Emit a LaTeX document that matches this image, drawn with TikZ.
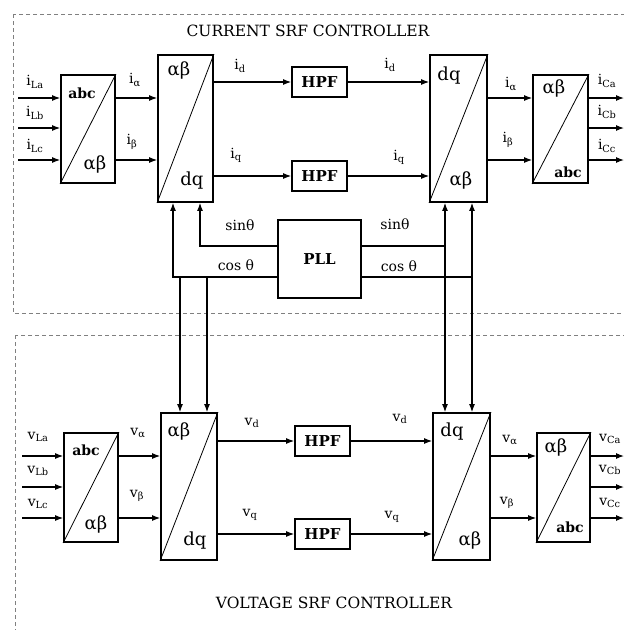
\documentclass[tikz,border=0pt]{standalone}
\usepackage{fontspec}
\setmainfont{DejaVu Serif}
\usepackage{tikz}
\usetikzlibrary{arrows.meta}

\begin{document}
\begin{tikzpicture}[x=1pt, y=-1pt, font=\fontsize{14}{16}\selectfont, >={Latex[length=8pt,width=6pt]}]
\tikzset{
  conv/.style={draw, line width=1.8pt, inner sep=0pt},
  filt/.style={draw, line width=1.8pt, minimum width=55, minimum height=30, font=\fontsize{15}{17}\selectfont\bfseries},
  sig/.style={line width=1.1pt},
  frame/.style={draw=gray, dash pattern=on 4pt off 3pt, line width=1pt},
  big/.style={font=\fontsize{18}{20}\selectfont},
  tag/.style={font=\fontsize{14}{16}\selectfont\bfseries},
  title/.style={font=\fontsize{15.5}{18}\selectfont},
}
\useasboundingbox (0,0) rectangle (624,630);
\clip (0,0) rectangle (624,630);

% frames
\draw[frame] (13,14) rectangle (650,313);
\draw[frame] (15,335) rectangle (650,650);
\node[title] (tI) at (308,31) {CURRENT SRF CONTROLLER};
\node[title] (tV) at (334,603) {VOLTAGE SRF CONTROLLER};

% current controller
\node[conv, minimum width=54, minimum height=108] (ca) at (88,129) {};
\node[conv, minimum width=55, minimum height=147] (cb) at (185.5,128.5) {};
\node[conv, minimum width=57, minimum height=147] (cc) at (458.5,128.5) {};
\node[conv, minimum width=55, minimum height=108] (cd) at (560.5,129) {};
\foreach \n in {ca,cb,cc,cd} \draw[line width=0.8pt] (\n.south west) -- (\n.north east);
\node[tag] (caT) at (82,93) {abc};
\node[big] (caB) at (95,164) {αβ};
\node[big] (cbT) at (179,70) {αβ};
\node[big] (cbB) at (192,181) {dq};
\node[big] (ccT) at (449,76) {dq};
\node[big] (ccB) at (461,180) {αβ};
\node[big] (cdT) at (554,88) {αβ};
\node[tag] (cdB) at (568,172) {abc};

\node[filt] (hd) at (319.5,82) {HPF};
\node[filt] (hq) at (319.5,176) {HPF};
\node[filt, minimum width=83, minimum height=78] (pll) at (319.5,259) {PLL};

\foreach \y [count=\k] in {98,128,160} {
  \coordinate (li\k) at (18,\y);
  \coordinate (lo\k) at (624,\y);
  \draw[sig,->] (li\k) -- (li\k -| ca.west);
  \draw[sig,->] (cd.east |- lo\k) -- (lo\k);
}
\coordinate (ra) at (0,98);
\coordinate (rb) at (0,160);
\draw[sig,->] (ca.east |- ra) -- (cb.west |- ra);
\draw[sig,->] (ca.east |- rb) -- (cb.west |- rb);
\draw[sig,->] (cc.east |- ra) -- (cd.west |- ra);
\draw[sig,->] (cc.east |- rb) -- (cd.west |- rb);
\draw[sig,->] (cb.east |- hd) -- (hd.west);
\draw[sig,->] (cb.east |- hq) -- (hq.west);
\draw[sig,->] (hd.east) -- (cc.west |- hd.east);
\draw[sig,->] (hq.east) -- (cc.west |- hq.east);

\node (iLa) at (35,82) {i\textsubscript{La}};
\node (iLb) at (35,113) {i\textsubscript{Lb}};
\node (iLc) at (35,146) {i\textsubscript{Lc}};
\node (ia1) at (135,80) {i\textsubscript{α}};
\node (ib1) at (132,142) {i\textsubscript{β}};
\node (id1) at (240,66) {i\textsubscript{d}};
\node (iq1) at (236,155) {i\textsubscript{q}};
\node (id2) at (390,65) {i\textsubscript{d}};
\node (iq2) at (399,157) {i\textsubscript{q}};
\node (ia2) at (511,84) {i\textsubscript{α}};
\node (ib2) at (508,140) {i\textsubscript{β}};
\node (iCa) at (607,81) {i\textsubscript{Ca}};
\node (iCb) at (607,112) {i\textsubscript{Cb}};
\node (iCc) at (607,146) {i\textsubscript{Cc}};

% PLL outputs
\coordinate (sL) at (200,246);
\coordinate (cL) at (173,277);
\coordinate (sR) at (445,246);
\coordinate (cR) at (472,277);
\coordinate (dL1) at (180,277);
\coordinate (dL2) at (207,277);
\draw[sig,->] (pll.west |- sL) -- (sL) -- (sL |- cb.south);
\draw[sig,->] (pll.west |- cL) -- (cL) -- (cL |- cb.south);
\draw[sig,->] (pll.east |- sR) -- (sR) -- (sR |- cc.south);
\draw[sig,->] (pll.east |- cR) -- (cR) -- (cR |- cc.south);
\node (sin1) at (240,225) {sinθ};
\node (cos1) at (236,265) {cos θ};
\node (sin2) at (395,224) {sinθ};
\node (cos2) at (399,266) {cos θ};

% voltage controller
\node[conv, minimum width=54, minimum height=109] (va) at (91,487.5) {};
\node[conv, minimum width=56, minimum height=147] (vb) at (189,486.5) {};
\node[conv, minimum width=57, minimum height=147] (vc) at (461.5,486.5) {};
\node[conv, minimum width=53, minimum height=109] (vd) at (563.5,487.5) {};
\foreach \n in {va,vb,vc,vd} \draw[line width=0.8pt] (\n.south west) -- (\n.north east);
\node[tag] (vaT) at (86,450) {abc};
\node[big] (vaB) at (96,524) {αβ};
\node[big] (vbT) at (179,431) {αβ};
\node[big] (vbB) at (195,541) {dq};
\node[big] (vcT) at (452,432) {dq};
\node[big] (vcB) at (470,540) {αβ};
\node[big] (vdT) at (556,447) {αβ};
\node[tag] (vdB) at (570,527) {abc};

\node[filt] (hvd) at (322.5,441) {HPF};
\node[filt] (hvq) at (322.5,534) {HPF};

\foreach \y [count=\k] in {456,487,518} {
  \coordinate (vi\k) at (22,\y);
  \coordinate (vo\k) at (624,\y);
  \draw[sig,->] (vi\k) -- (vi\k -| va.west);
  \draw[sig,->] (vd.east |- vo\k) -- (vo\k);
}
\coordinate (wa) at (0,456);
\coordinate (wb) at (0,518);
\draw[sig,->] (va.east |- wa) -- (vb.west |- wa);
\draw[sig,->] (va.east |- wb) -- (vb.west |- wb);
\draw[sig,->] (vc.east |- wa) -- (vd.west |- wa);
\draw[sig,->] (vc.east |- wb) -- (vd.west |- wb);
\draw[sig,->] (vb.east |- hvd) -- (hvd.west);
\draw[sig,->] (vb.east |- hvq) -- (hvq.west);
\draw[sig,->] (hvd.east) -- (vc.west |- hvd.east);
\draw[sig,->] (hvq.east) -- (vc.west |- hvq.east);

% theta down to voltage side
\draw[sig,->] (dL1) -- (dL1 |- vb.north);
\draw[sig,->] (dL2) -- (dL2 |- vb.north);
\draw[sig,->] (sR) -- (sR |- vc.north);
\draw[sig,->] (cR) -- (cR |- vc.north);

\node (vLa) at (38,437) {v\textsubscript{La}};
\node (vLb) at (38,471) {v\textsubscript{Lb}};
\node (vLc) at (38,504) {v\textsubscript{Lc}};
\node (va1) at (138,433) {v\textsubscript{α}};
\node (vb1) at (137,496) {v\textsubscript{β}};
\node (vd1) at (252,423) {v\textsubscript{d}};
\node (vq1) at (250,515) {v\textsubscript{q}};
\node (vd2) at (400,419) {v\textsubscript{d}};
\node (vq2) at (392,517) {v\textsubscript{q}};
\node (va2) at (510,440) {v\textsubscript{α}};
\node (vb2) at (507,503) {v\textsubscript{β}};
\node (vCa) at (610,439) {v\textsubscript{Ca}};
\node (vCb) at (610,470) {v\textsubscript{Cb}};
\node (vCc) at (610,503) {v\textsubscript{Cc}};
\end{tikzpicture}
\end{document}
